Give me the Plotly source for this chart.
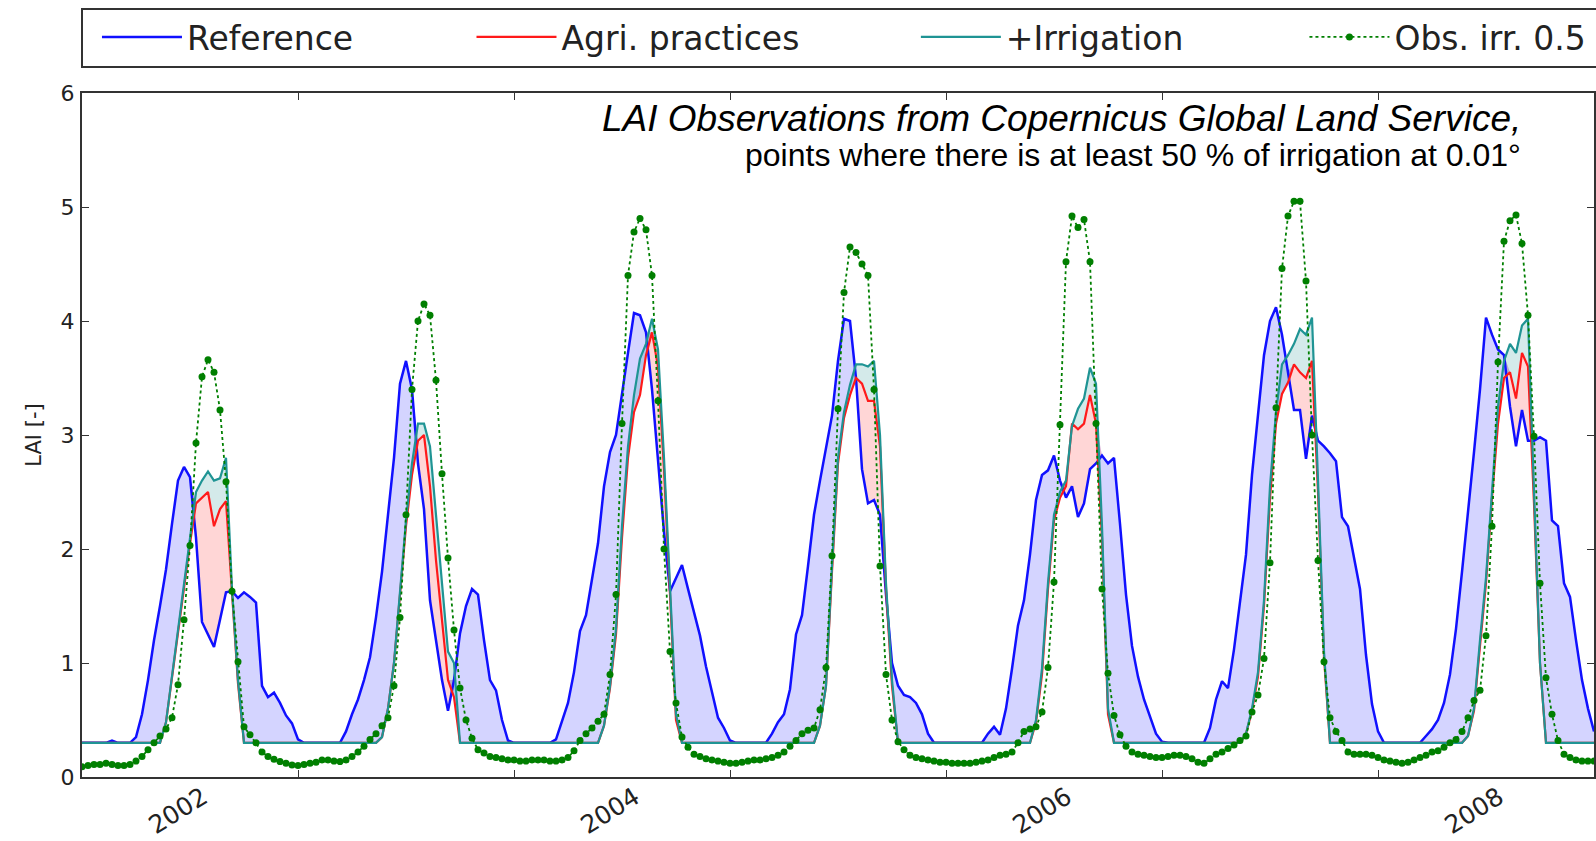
import numpy as np
import plotly.graph_objects as go

# ---------------- data (10-day steps starting 2001.0) ----------------
start_year = 2001.0
steps_per_year = 36

ref = [
    0.3, 0.3, 0.3, 0.3, 0.3, 0.32, 0.3, 0.3, 0.3, 0.35,
    0.55, 0.85, 1.2, 1.5, 1.82, 2.22, 2.6, 2.72, 2.63, 2.1,
    1.36, 1.25, 1.14, 1.38, 1.62, 1.63, 1.57, 1.62, 1.58, 1.53,
    0.8, 0.7, 0.74, 0.65, 0.54, 0.47, 0.33, 0.3, 0.3, 0.3,
    0.3, 0.3, 0.3, 0.3, 0.4, 0.55, 0.68, 0.85, 1.05, 1.4,
    1.8, 2.3, 2.8, 3.45, 3.65, 3.4, 2.75, 2.35, 1.55, 1.2,
    0.85, 0.58, 0.85, 1.26, 1.5, 1.65, 1.6, 1.2, 0.85, 0.76,
    0.5, 0.32, 0.3, 0.3, 0.3, 0.3, 0.3, 0.3, 0.3, 0.33,
    0.5, 0.65, 0.92, 1.28, 1.42, 1.75, 2.05, 2.55, 2.85, 3.0,
    3.38, 3.72, 4.07, 4.05, 3.9, 3.4, 2.78, 2.15, 1.63, 1.75,
    1.86, 1.65, 1.44, 1.24, 0.97, 0.73, 0.52, 0.43, 0.32, 0.3,
    0.3, 0.3, 0.3, 0.3, 0.3, 0.38, 0.48, 0.55, 0.77, 1.25,
    1.42, 1.85, 2.3, 2.6, 2.9, 3.17, 3.65, 4.02, 4.0, 3.5,
    2.7, 2.4, 2.43, 2.3, 1.6, 1.0, 0.8, 0.72, 0.7, 0.65,
    0.55, 0.38, 0.3, 0.3, 0.3, 0.3, 0.3, 0.3, 0.3, 0.3,
    0.3, 0.38, 0.44, 0.37, 0.6, 0.95, 1.33, 1.55, 1.95, 2.43,
    2.65, 2.69, 2.82, 2.6, 2.45, 2.55, 2.28, 2.4, 2.7, 2.75,
    2.82, 2.75, 2.8, 2.22, 1.6, 1.15, 0.88, 0.68, 0.52, 0.38,
    0.31, 0.3, 0.3, 0.3, 0.3, 0.3, 0.3, 0.3, 0.43, 0.68,
    0.84, 0.78, 1.12, 1.54, 1.95, 2.65, 3.2, 3.7, 4.0, 4.12,
    3.88, 3.56, 3.22, 3.22, 2.79, 3.17, 2.95, 2.9, 2.84, 2.77,
    2.28, 2.2, 1.91, 1.65, 1.07, 0.64, 0.4, 0.3, 0.3, 0.3,
    0.3, 0.3, 0.3, 0.3, 0.36, 0.42, 0.5, 0.65, 0.9, 1.3,
    1.8, 2.3, 2.85, 3.4, 4.03, 3.88, 3.75, 3.7, 3.25, 2.9,
    3.22, 2.95, 2.95, 2.98, 2.95, 2.25, 2.2, 1.7, 1.58, 1.2,
    0.85, 0.6, 0.4,
]

agri = [
    0.3, 0.3, 0.3, 0.3, 0.3, 0.3, 0.3, 0.3, 0.3, 0.3,
    0.3, 0.3, 0.3, 0.3, 0.48, 0.88, 1.25, 1.68, 2.05, 2.4,
    2.45, 2.5, 2.2, 2.35, 2.42, 1.6, 0.82, 0.3, 0.3, 0.3,
    0.3, 0.3, 0.3, 0.3, 0.3, 0.3, 0.3, 0.3, 0.3, 0.3,
    0.3, 0.3, 0.3, 0.3, 0.3, 0.3, 0.3, 0.3, 0.3, 0.3,
    0.35, 0.6, 1.0, 1.6, 2.2, 2.65, 2.95, 3.0, 2.55, 1.9,
    1.4, 0.85, 0.7, 0.3, 0.3, 0.3, 0.3, 0.3, 0.3, 0.3,
    0.3, 0.3, 0.3, 0.3, 0.3, 0.3, 0.3, 0.3, 0.3, 0.3,
    0.3, 0.3, 0.3, 0.3, 0.3, 0.3, 0.3, 0.45, 0.78, 1.25,
    2.1, 2.8, 3.2, 3.35, 3.7, 3.9, 3.6, 2.7, 1.55, 0.5,
    0.3, 0.3, 0.3, 0.3, 0.3, 0.3, 0.3, 0.3, 0.3, 0.3,
    0.3, 0.3, 0.3, 0.3, 0.3, 0.3, 0.3, 0.3, 0.3, 0.3,
    0.3, 0.3, 0.3, 0.45, 0.8, 1.8, 2.75, 3.15, 3.35, 3.5,
    3.45, 3.3, 3.3, 2.9, 1.65, 0.8, 0.3, 0.3, 0.3, 0.3,
    0.3, 0.3, 0.3, 0.3, 0.3, 0.3, 0.3, 0.3, 0.3, 0.3,
    0.3, 0.3, 0.3, 0.3, 0.3, 0.3, 0.3, 0.3, 0.3, 0.48,
    0.9, 1.65, 2.25, 2.45, 2.55, 3.1, 3.05, 3.1, 3.35, 3.1,
    2.1, 0.55, 0.3, 0.3, 0.3, 0.3, 0.3, 0.3, 0.3, 0.3,
    0.3, 0.3, 0.3, 0.3, 0.3, 0.3, 0.3, 0.3, 0.3, 0.3,
    0.3, 0.3, 0.3, 0.3, 0.38, 0.58, 0.88, 1.5, 2.45, 3.1,
    3.36, 3.46, 3.62, 3.55, 3.5, 3.65, 2.5, 1.05, 0.3, 0.3,
    0.3, 0.3, 0.3, 0.3, 0.3, 0.3, 0.3, 0.3, 0.3, 0.3,
    0.3, 0.3, 0.3, 0.3, 0.3, 0.3, 0.3, 0.3, 0.3, 0.3,
    0.3, 0.36, 0.58, 1.15, 1.7, 2.45, 3.1, 3.5, 3.55, 3.32,
    3.72, 3.6, 2.4, 1.0, 0.3, 0.3, 0.3, 0.3, 0.3, 0.3,
    0.3, 0.3, 0.3,
]

irr = [
    0.3, 0.3, 0.3, 0.3, 0.3, 0.3, 0.3, 0.3, 0.3, 0.3,
    0.3, 0.3, 0.3, 0.3, 0.48, 0.88, 1.25, 1.68, 2.05, 2.5,
    2.6, 2.68, 2.6, 2.62, 2.8, 1.65, 0.85, 0.3, 0.3, 0.3,
    0.3, 0.3, 0.3, 0.3, 0.3, 0.3, 0.3, 0.3, 0.3, 0.3,
    0.3, 0.3, 0.3, 0.3, 0.3, 0.3, 0.3, 0.3, 0.3, 0.3,
    0.35, 0.6, 1.0, 1.6, 2.25, 2.75, 3.1, 3.1, 2.9, 2.3,
    1.7, 1.1, 1.0, 0.3, 0.3, 0.3, 0.3, 0.3, 0.3, 0.3,
    0.3, 0.3, 0.3, 0.3, 0.3, 0.3, 0.3, 0.3, 0.3, 0.3,
    0.3, 0.3, 0.3, 0.3, 0.3, 0.3, 0.3, 0.45, 0.8, 1.3,
    2.2, 2.9, 3.35, 3.67, 3.8, 4.02, 3.75, 2.8, 1.6, 0.55,
    0.3, 0.3, 0.3, 0.3, 0.3, 0.3, 0.3, 0.3, 0.3, 0.3,
    0.3, 0.3, 0.3, 0.3, 0.3, 0.3, 0.3, 0.3, 0.3, 0.3,
    0.3, 0.3, 0.3, 0.45, 0.8, 1.85, 2.8, 3.2, 3.44, 3.62,
    3.62, 3.6, 3.65, 3.0, 1.7, 0.85, 0.3, 0.3, 0.3, 0.3,
    0.3, 0.3, 0.3, 0.3, 0.3, 0.3, 0.3, 0.3, 0.3, 0.3,
    0.3, 0.3, 0.3, 0.3, 0.3, 0.3, 0.3, 0.3, 0.3, 0.5,
    0.95, 1.7, 2.3, 2.5, 2.6, 3.08, 3.23, 3.32, 3.59, 3.45,
    2.2, 0.6, 0.3, 0.3, 0.3, 0.3, 0.3, 0.3, 0.3, 0.3,
    0.3, 0.3, 0.3, 0.3, 0.3, 0.3, 0.3, 0.3, 0.3, 0.3,
    0.3, 0.3, 0.3, 0.3, 0.38, 0.6, 0.92, 1.55, 2.55, 3.2,
    3.62, 3.7, 3.8, 3.93, 3.88, 4.03, 2.6, 1.1, 0.3, 0.3,
    0.3, 0.3, 0.3, 0.3, 0.3, 0.3, 0.3, 0.3, 0.3, 0.3,
    0.3, 0.3, 0.3, 0.3, 0.3, 0.3, 0.3, 0.3, 0.3, 0.3,
    0.3, 0.36, 0.6, 1.2, 1.75, 2.5, 3.25, 3.65, 3.8, 3.72,
    3.96, 4.02, 2.5, 1.0, 0.3, 0.3, 0.3, 0.3, 0.3, 0.3,
    0.3, 0.3, 0.3,
]

obs = [
    0.09, 0.10, 0.11, 0.11, 0.12, 0.11, 0.10, 0.10, 0.11, 0.14,
    0.18, 0.24, 0.30, 0.36, 0.42, 0.52, 0.81, 1.38, 2.03, 2.93,
    3.51, 3.66, 3.55, 3.22, 2.59, 1.63, 1.01, 0.44, 0.37, 0.30,
    0.22, 0.18, 0.155, 0.135, 0.12, 0.105, 0.10, 0.11, 0.12, 0.13,
    0.15, 0.15, 0.14, 0.135, 0.15, 0.18, 0.22, 0.27, 0.33, 0.38,
    0.45, 0.52, 0.8, 1.4, 2.3, 3.4, 4.0, 4.15, 4.05, 3.48,
    2.66, 1.92, 1.29, 0.78, 0.5, 0.34, 0.24, 0.21, 0.18, 0.17,
    0.16, 0.15, 0.15, 0.14, 0.14, 0.15, 0.15, 0.15, 0.14, 0.14,
    0.15, 0.17, 0.23, 0.32, 0.38, 0.43, 0.49, 0.55, 0.9, 1.6,
    3.1, 4.4, 4.78, 4.9, 4.8, 4.4, 3.3, 2.0, 1.1, 0.65,
    0.35, 0.26, 0.2, 0.18, 0.16, 0.15, 0.14, 0.13, 0.12, 0.12,
    0.13, 0.14, 0.15, 0.15, 0.16, 0.17, 0.19, 0.22, 0.27, 0.32,
    0.38, 0.41, 0.43, 0.59, 0.96, 1.94, 3.23, 4.25, 4.65, 4.6,
    4.5, 4.4, 3.4, 1.85, 0.9, 0.5, 0.31, 0.24, 0.19, 0.17,
    0.16, 0.15, 0.14, 0.13, 0.13, 0.12, 0.12, 0.12, 0.12, 0.13,
    0.14, 0.15, 0.17, 0.19, 0.2, 0.22, 0.3, 0.4, 0.42, 0.44,
    0.57, 0.96, 1.71, 3.09, 4.52, 4.92, 4.82, 4.89, 4.52, 3.1,
    1.65, 0.91, 0.54, 0.37, 0.27, 0.22, 0.2, 0.19, 0.18, 0.17,
    0.17, 0.18, 0.19, 0.19, 0.18, 0.16, 0.13, 0.12, 0.16, 0.2,
    0.22, 0.25, 0.28, 0.32, 0.36, 0.57, 0.72, 1.04, 1.88, 3.24,
    4.46, 4.92, 5.05, 5.05, 4.35, 3.0, 1.9, 1.01, 0.52, 0.4,
    0.32, 0.22, 0.2, 0.2, 0.2, 0.19, 0.17, 0.15, 0.14, 0.13,
    0.12, 0.13, 0.15, 0.17, 0.19, 0.22, 0.23, 0.26, 0.3, 0.33,
    0.4, 0.52, 0.67, 0.76, 1.24, 2.2, 3.64, 4.7, 4.88, 4.93,
    4.68, 4.05, 2.99, 1.7, 0.87, 0.55, 0.32, 0.2, 0.17, 0.15,
    0.14, 0.14, 0.14,
]

year_ticks = [2002, 2003, 2004, 2005, 2006, 2007, 2008]
label_pos = [2001.56, 2003.56, 2005.56, 2007.56]
label_text = ["2002", "2004", "2006", "2008"]
y_ticks = [0, 1, 2, 3, 4, 5, 6]
x_range = [2001.0, 2008.0]

# ---------------- derived ----------------
n = len(obs)
t = [start_year + i / steps_per_year for i in range(n)]
ref_a = np.array(ref)
agri_a = np.array(agri)
irr_a = np.array(irr)
upper = np.maximum(ref_a, agri_a)

BLUE = "#1010ff"
RED = "#ff1a1a"
TEAL = "#1f9494"
GREEN = "#007f00"
AX = "#333333"

fig = go.Figure()

fills = [
    (agri_a, upper, "rgba(0,0,255,0.17)"),
    (ref_a, upper, "rgba(255,0,0,0.16)"),
    (agri_a, irr_a, "rgba(0,128,128,0.17)"),
]
for lo, hi, col in fills:
    fig.add_trace(go.Scatter(x=t, y=lo, mode="lines", line=dict(width=0),
                             showlegend=False, hoverinfo="skip"))
    fig.add_trace(go.Scatter(x=t, y=hi, mode="lines", line=dict(width=0),
                             fill="tonexty", fillcolor=col,
                             showlegend=False, hoverinfo="skip"))

fig.add_trace(go.Scatter(x=t, y=ref, mode="lines", name="Reference",
                         line=dict(color=BLUE, width=2.5), legend="legend"))
fig.add_trace(go.Scatter(x=t, y=agri, mode="lines", name="Agri. practices",
                         line=dict(color=RED, width=2.2), legend="legend2"))
fig.add_trace(go.Scatter(x=t, y=irr, mode="lines", name="+Irrigation",
                         line=dict(color=TEAL, width=2.2), legend="legend3"))
fig.add_trace(go.Scatter(x=t, y=obs, mode="lines+markers", name="Obs. irr. 0.5",
                         line=dict(color=GREEN, width=1.8, dash="dot"),
                         marker=dict(color=GREEN, size=7),
                         legend="legend4", xaxis="x2"))


def leg(xpos):
    return dict(orientation="h", x=xpos, xanchor="left", y=1.0819, yanchor="middle",
                font=dict(family="DejaVu Sans", size=33, color="#222222"),
                bgcolor="rgba(0,0,0,0)", borderwidth=0, itemwidth=80)


fig.update_layout(
    width=1596, height=841,
    margin=dict(l=82, r=0, t=93, b=64),
    paper_bgcolor="white", plot_bgcolor="white",
    font=dict(family="DejaVu Sans", color="#222222"),
    showlegend=True,
    xaxis=dict(range=x_range, tickvals=year_ticks, showticklabels=False,
               ticks="inside", ticklen=7, tickwidth=1, tickcolor=AX,
               showline=True, linecolor=AX, linewidth=2, mirror="ticks",
               showgrid=False, zeroline=False),
    xaxis2=dict(range=x_range, overlaying="x", anchor="y", side="bottom",
                tickvals=label_pos, ticktext=label_text, tickangle=-32,
                ticks="", showline=False, showgrid=False, zeroline=False,
                tickfont=dict(family="DejaVu Sans", size=25, color="#222222")),
    yaxis=dict(range=[0, 6], tickvals=y_ticks, ticks="inside", ticklen=7,
               tickwidth=1, tickcolor=AX, showline=True, linecolor=AX,
               linewidth=2, mirror="ticks", showgrid=False, zeroline=False,
               tickfont=dict(family="DejaVu Sans", size=22, color="#222222"),
               ticklabelstandoff=1,
               title=dict(text="LAI [-]", standoff=13,
                          font=dict(family="DejaVu Sans", size=21, color="#222222"))),
    legend=leg(0.0099),
    legend2=leg(0.2576),
    legend3=leg(0.5515),
    legend4=leg(0.8085),
    shapes=[dict(type="rect", xref="paper", yref="paper", x0=0, x1=1.05,
                 y0=1.038, y1=1.1228, line=dict(color=AX, width=2),
                 fillcolor="white", layer="below")],
    annotations=[
        dict(text="<i>LAI Observations from Copernicus Global Land Service,</i>",
             xref="paper", yref="paper", x=0.953, y=0.962, xanchor="right",
             yanchor="middle", showarrow=False,
             font=dict(family="Liberation Sans", size=37, color="black")),
        dict(text="points where there is at least 50 % of irrigation at 0.01°",
             xref="paper", yref="paper", x=0.953, y=0.9094, xanchor="right",
             yanchor="middle", showarrow=False,
             font=dict(family="Liberation Sans", size=32, color="black")),
    ],
)

fig.write_html("out.html")
